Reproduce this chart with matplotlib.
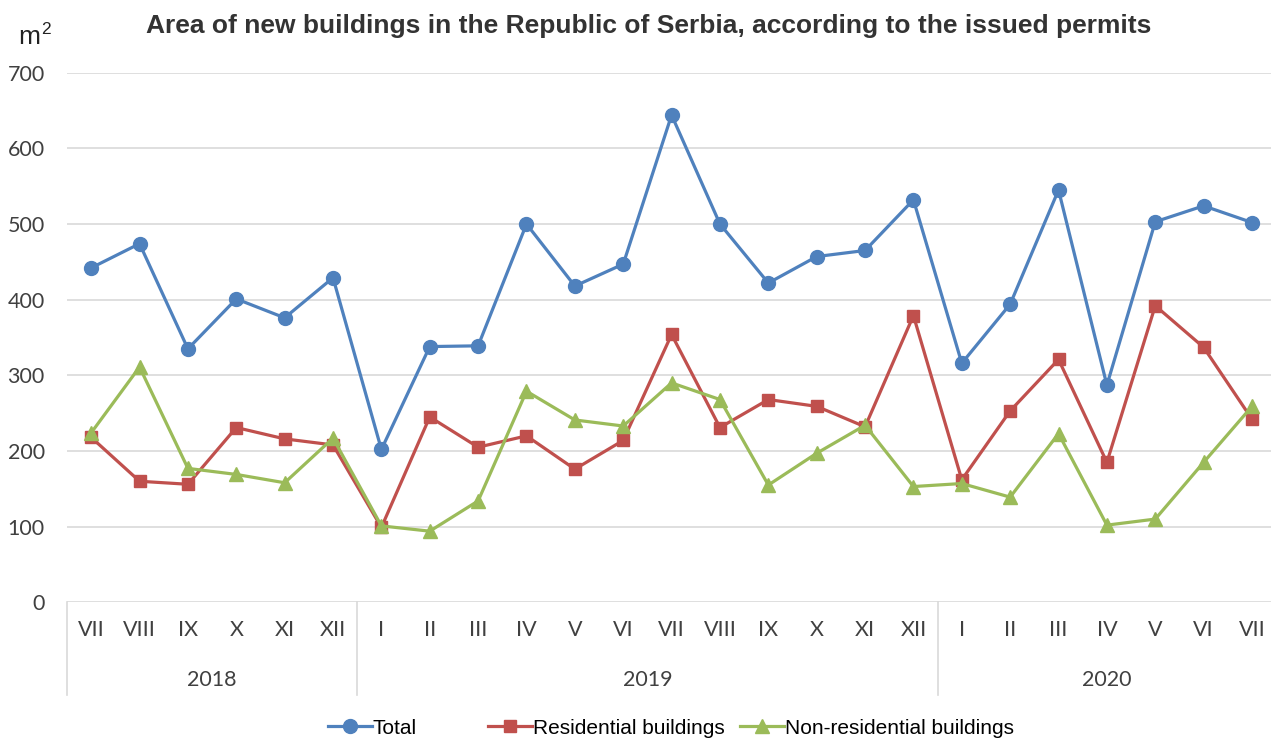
import matplotlib
matplotlib.use("Agg")
import matplotlib.pyplot as plt
import matplotlib.transforms as mtransforms
from matplotlib.lines import Line2D
import numpy as np

# ── data ─────────────────────────────────────────────────────────────────────

months = ["VII", "VIII", "IX", "X", "XI", "XII",
          "I", "II", "III", "IV", "V", "VI", "VII", "VIII", "IX", "X", "XI", "XII",
          "I", "II", "III", "IV", "V", "VI", "VII"]
years = ["2018", "2019", "2020"]
year_start = [0, 6, 18]          # index of first month of each year group
year_end = [5, 17, 24]           # index of last month

total = [442, 474, 335, 401, 376, 429,
         202, 338, 339, 500, 418, 447, 644, 500, 422, 457, 465, 532,
         316, 394, 545, 287, 503, 524, 502]
residential = [218, 160, 156, 231, 216, 208,
               99, 245, 205, 220, 176, 214, 354, 231, 268, 259, 232, 379,
               162, 253, 321, 185, 392, 337, 242]
non_residential = [224, 311, 177, 169, 158, 217,
                   101, 94, 134, 279, 241, 233, 290, 268, 155, 197, 234, 153,
                   157, 139, 223, 102, 110, 185, 259]

series_names = ["Total", "Residential buildings", "Non-residential buildings"]

COLORS = {
    "blue":  "#4F81BD",
    "red":   "#C0504D",
    "green": "#9BBB59",
    "grid":  "#D9D9D9",
    "text":  "#404040",
}

TICK_FONT = ["Lato", "DejaVu Sans"]
TEXT_FONT = ["Liberation Sans", "DejaVu Sans"]

# ── figure ───────────────────────────────────────────────────────────────────

W, H = 1271, 740
fig = plt.figure(figsize=(W / 100, H / 100), dpi=100)

ax_left, ax_top, ax_bottom = 67, 72.7, 602.3
ax = fig.add_axes([ax_left / W, 1 - ax_bottom / H, 1 - ax_left / W,
                   (ax_bottom - ax_top) / H])

x = np.arange(len(months))
styles = [
    (total, COLORS["blue"], "o", 10),
    (residential, COLORS["red"], "s", 9),
    (non_residential, COLORS["green"], "^", 10.5),
]
handles = []
for (vals, col, mk, ms), name in zip(styles, series_names):
    ln, = ax.plot(x, vals, color=col, linewidth=2.3, marker=mk, markersize=ms,
                  markeredgecolor=col, markerfacecolor=col, label=name,
                  solid_joinstyle="round", clip_on=False, zorder=3)
    handles.append(ln)

# y axis
ax.set_ylim(0, 700)
ax.set_yticks(range(0, 701, 100))
ax.grid(axis="y", color=COLORS["grid"], linewidth=1.2)
ax.set_axisbelow(True)
for s in ax.spines.values():
    s.set_visible(False)
ax.tick_params(axis="y", length=0, pad=16, labelsize=15.5, labelcolor=COLORS["text"])
for lbl in ax.get_yticklabels():
    lbl.set_family(TICK_FONT)

# x axis: months
px_per_unit = (1252 - 91) / 24
ax.set_xlim(-0.5, 24 + (W - 1252) / px_per_unit)
ax.set_xticks(x)
ax.set_xticklabels(months)
ax.tick_params(axis="x", length=0, pad=13, labelsize=15.5, labelcolor=COLORS["text"])
for lbl in ax.get_xticklabels():
    lbl.set_family(TICK_FONT)

# multi-level axis: separators and year labels
trans = mtransforms.blended_transform_factory(ax.transData, ax.transAxes)
ax_h = ax_bottom - ax_top
sep_bottom = -(695 - ax_bottom) / ax_h
year_y = -(680 - ax_bottom) / ax_h
for s in year_start:
    ax.plot([s - 0.5, s - 0.5], [0, sep_bottom], color=COLORS["grid"],
            linewidth=1.2, transform=trans, clip_on=False)
for yr, s, e in zip(years, year_start, year_end):
    ax.text((s + e) / 2, year_y, yr, transform=trans, ha="center", va="center",
            fontsize=15.5, color=COLORS["text"], family=TICK_FONT)

# title and unit
fig.text(649 / W, 1 - 26 / H,
         "Area of new buildings in the Republic of Serbia, according to the issued permits",
         ha="center", va="center", fontsize=19, fontweight="bold",
         color="#333333", family=TEXT_FONT)
fig.text(18 / W, 1 - 37 / H, "m", ha="left", va="center", fontsize=19,
         color="#222222", family=TEXT_FONT)
fig.text(41 / W, 1 - 29 / H, "2", ha="left", va="center", fontsize=12.5,
         color="#222222", family=TEXT_FONT)

# legend, one entry at a time (Excel spacing is uneven)
leg_x = [328, 488, 740]
for h, name, lx in zip(handles, series_names, leg_x):
    proxy = Line2D([], [], color=h.get_color(), linewidth=2.3,
                   marker=h.get_marker(), markersize=h.get_markersize(),
                   markerfacecolor=h.get_color(), markeredgecolor=h.get_color())
    fig.legend(handles=[proxy], labels=[name], loc="center left",
               bbox_to_anchor=(lx / W, 1 - 728 / H), frameon=False,
               handlelength=2.1, handletextpad=0.05, borderpad=0,
               borderaxespad=0, prop={"family": TEXT_FONT, "size": 15})

fig.savefig("out.png", dpi=100)
